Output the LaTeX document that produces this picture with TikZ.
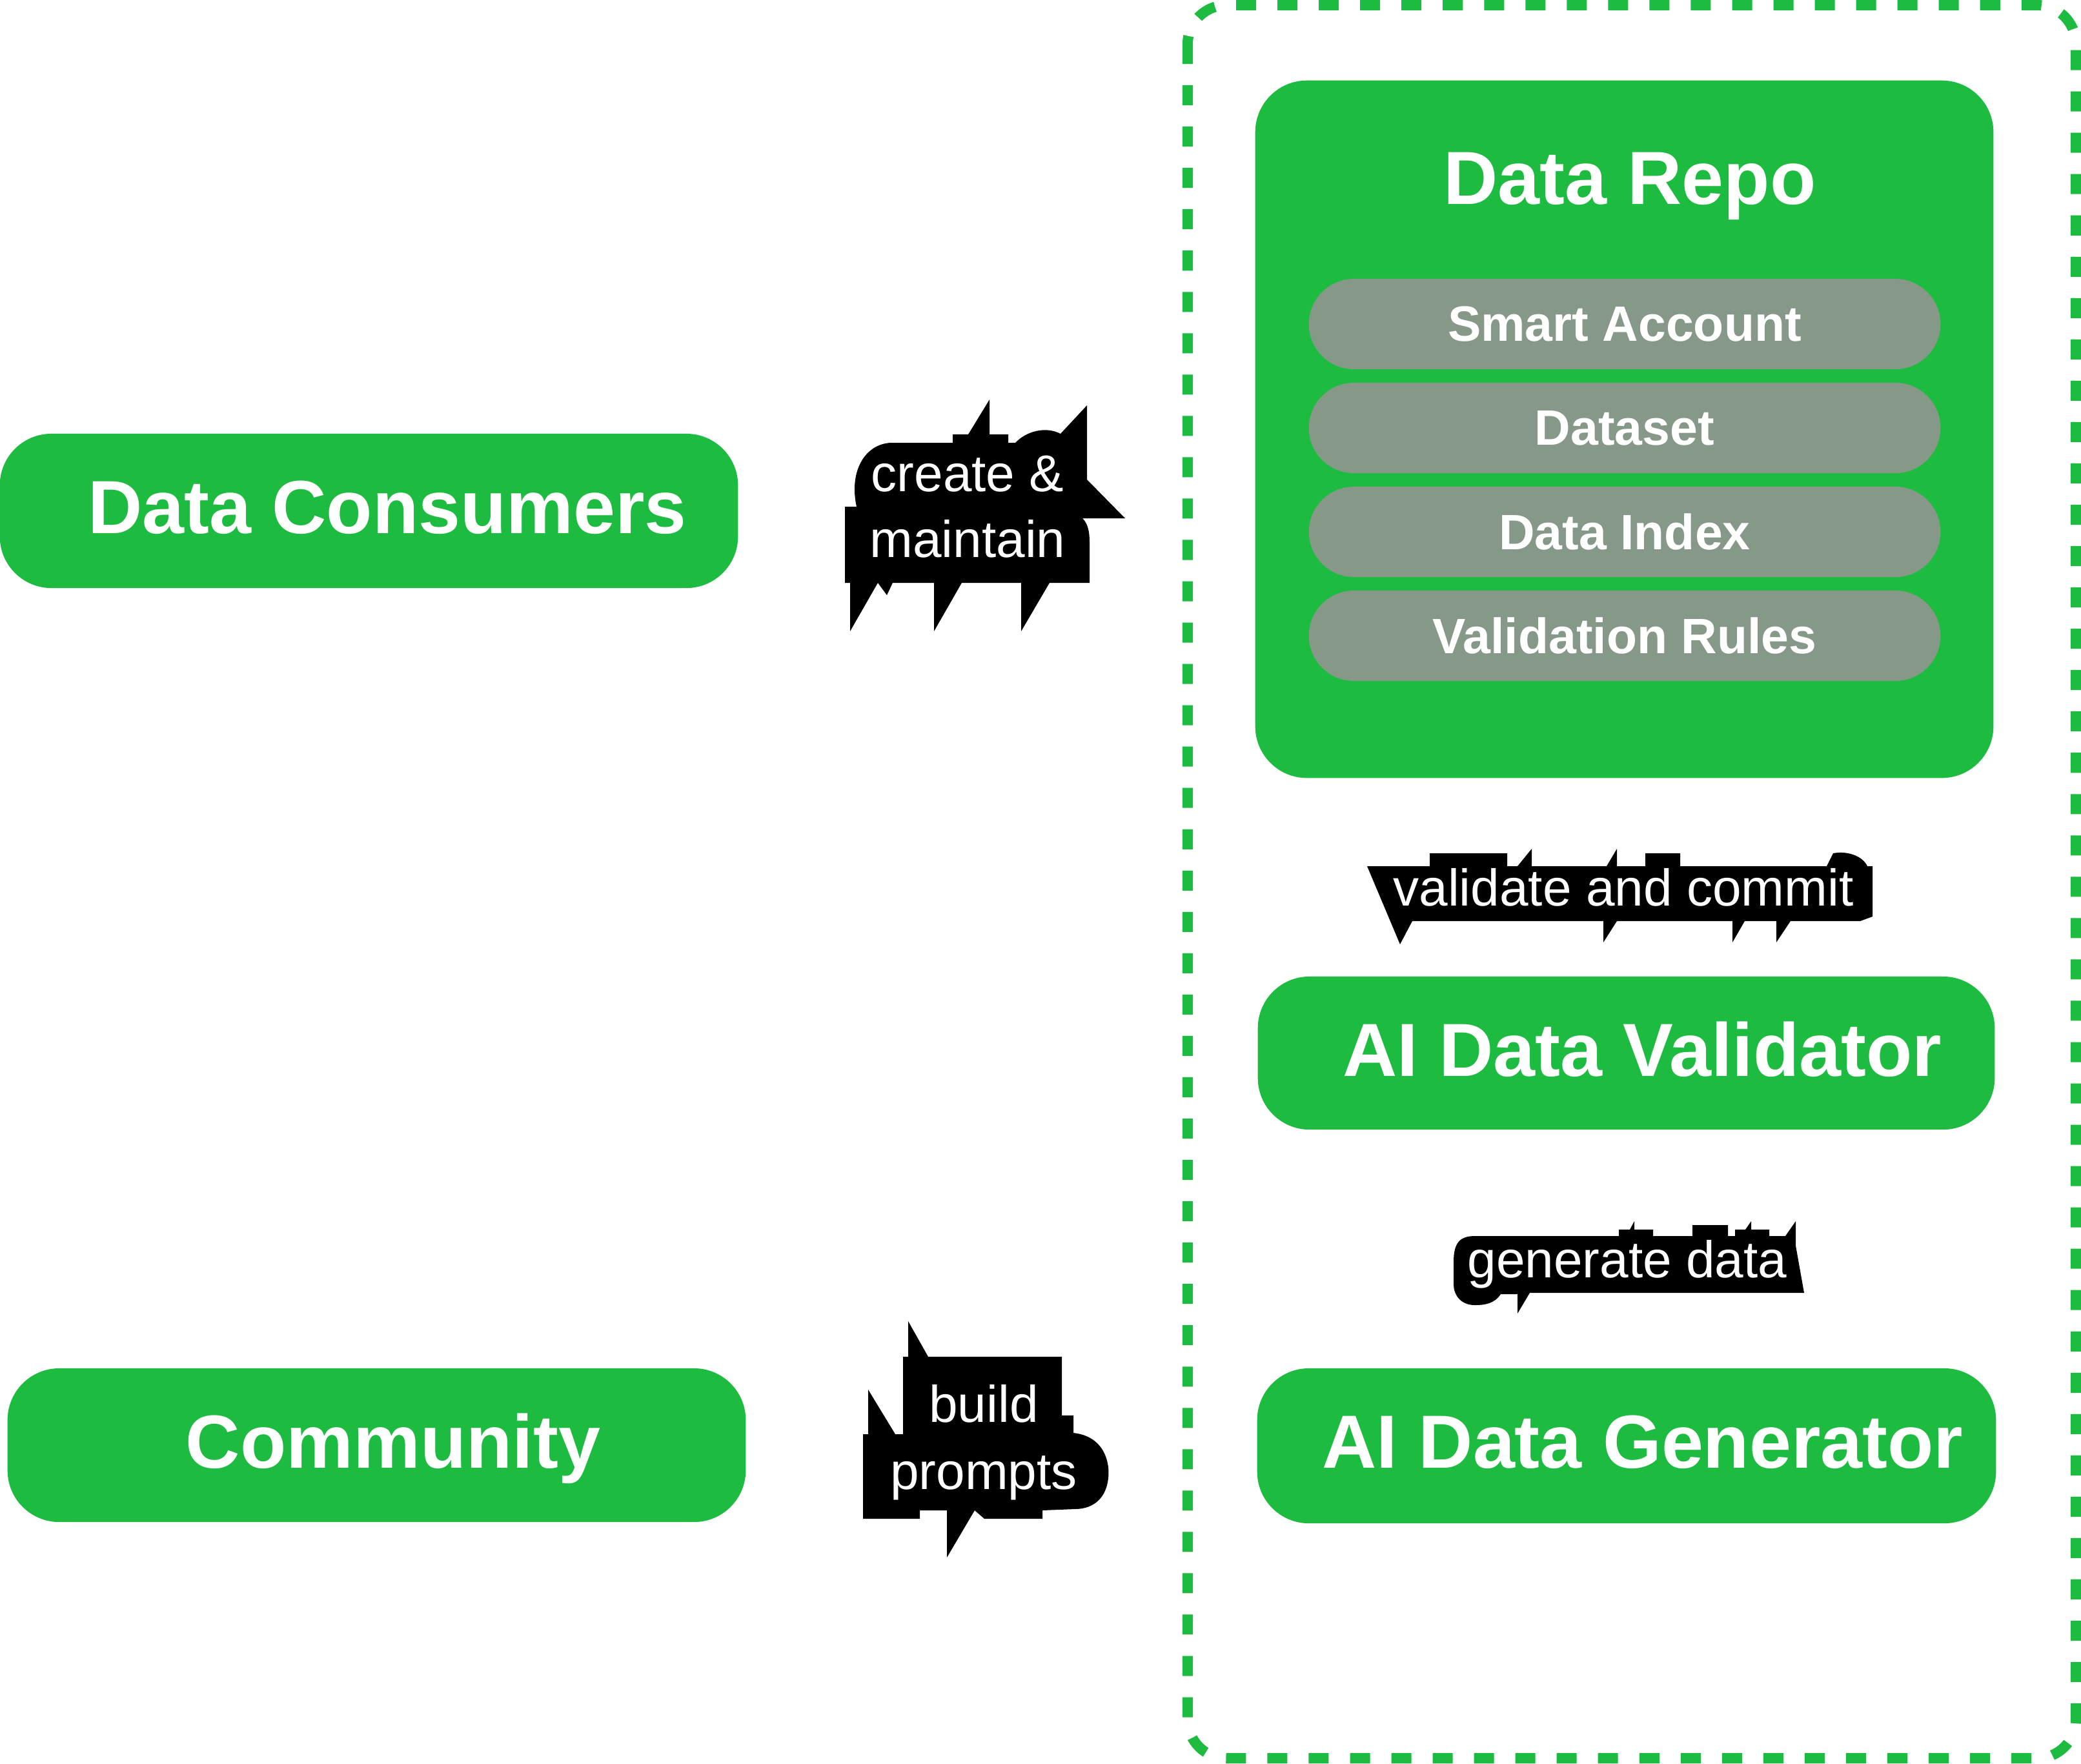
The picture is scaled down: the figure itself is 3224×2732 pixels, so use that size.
\documentclass[tikz,border=0pt]{standalone}
\usepackage{fontspec}
\setmainfont{Liberation Sans}
\definecolor{grn}{RGB}{29,187,63}
\definecolor{pillc}{RGB}{134,153,137}
\newcommand\ttlfont{\fontsize{33.2}{39}\selectfont\bfseries}
\newcommand\pilfont{\fontsize{21.9}{26}\selectfont\bfseries}
\newcommand\lblfont{\fontsize{22.8}{29}\selectfont}
\begin{document}
\begin{tikzpicture}[x=0.01cm,y=-0.01cm,
  greenbox/.style={fill=grn, rounded corners=0.8cm, inner sep=0pt},
  pillbox/.style={fill=pillc, rounded corners=0.7cm, minimum width=9.78cm, minimum height=1.40cm, inner sep=0pt, text=white, font=\pilfont},
  ttl/.style={text=white, font=\ttlfont, inner sep=0pt, anchor=base},
  lbl/.style={text=white, font=\lblfont, align=center, inner sep=0pt},
  blob/.style={fill=black},
  container/.style={draw=grn, line width=0.16cm, dash pattern=on 0.31cm off 0.33cm, rounded corners=0.6cm}]
\useasboundingbox (0,0) rectangle (3224,2732);
% dashed container
\draw[container] (1840,8) rectangle (3216,2724);

% left boxes
\node[greenbox, minimum width=11.43cm, minimum height=2.39cm] (consumers) at (571.5,791.5) {};
\node[ttl] (consumerstxt) at (600,826) {Data Consumers};
\node[greenbox, minimum width=11.43cm, minimum height=2.38cm] (community) at (583.5,2239) {};
\node[ttl] (communitytxt) at (609,2274) {Community};

% data repo
\node[greenbox, minimum width=11.43cm, minimum height=10.80cm] (repo) at (2516.5,665) {};
\node[ttl] (repotitle) at (2525,316) {Data Repo};
\node[pillbox] (smart) at (2517,502) {Smart Account};
\node[pillbox] (dataset) at (2517,663) {Dataset};
\node[pillbox] (index) at (2517,824) {Data Index};
\node[pillbox] (rules) at (2517,985) {Validation Rules};

% AI boxes
\node[greenbox, minimum width=11.41cm, minimum height=2.37cm] (validator) at (2519.5,1631.5) {};
\node[ttl] (validatortxt) at (2544,1667) {AI Data Validator};
\node[greenbox, minimum width=11.44cm, minimum height=2.40cm] (generator) at (2520,2240) {};
\node[ttl] (generatortxt) at (2545,2274) {AI Data Generator};

% label blobs
\fill[blob] (1309,903) -- (1309,785) -- (1327,785)
  .. controls (1315,730) and (1340,688) .. (1380,686) -- (1476,686) -- (1476,673) -- (1500,673)
  -- (1533,619) -- (1533,673) -- (1562,673) -- (1562,686) -- (1573,686)
  .. controls (1590,668) and (1620,660) .. (1643,672) -- (1684,628) -- (1684,743) -- (1743,803) -- (1677,803)
  .. controls (1686,812) and (1688,825) .. (1688,840) -- (1688,903) -- (1626,903) -- (1582,978) -- (1582,903)
  -- (1490,903) -- (1447,978) -- (1447,903) -- (1383,903) -- (1374,922) -- (1360,903) -- (1317,978) -- (1317,903) -- cycle;

\fill[blob] (2118,1342) -- (2169,1463) -- (2188,1427) -- (2484,1427) -- (2484,1460) -- (2505,1427)
  -- (2684,1427) -- (2684,1460) -- (2703,1427) -- (2752,1427) -- (2752,1460) -- (2774,1427)
  -- (2882,1427) -- (2901,1420) -- (2901,1342) -- (2893,1342)
  .. controls (2885,1325) and (2860,1318) .. (2840,1322) -- (2830,1342)
  -- (2603,1342) -- (2603,1322) -- (2549,1322) -- (2549,1342) -- (2505,1342) -- (2505,1315) -- (2489,1342)
  -- (2373,1342) -- (2373,1315) -- (2351,1342) -- (2335,1342) -- (2335,1322) -- (2215,1322) -- (2215,1342) -- cycle;

\fill[blob] (2252,1990) -- (2252,1955) .. controls (2252,1925) and (2262,1915) .. (2285,1915)
  -- (2508,1915) -- (2508,1905) -- (2525,1905) -- (2532,1892) -- (2532,1905) -- (2561,1905) -- (2561,1915)
  -- (2622,1915) -- (2622,1898) -- (2677,1898) -- (2677,1915) -- (2688,1915) -- (2688,1905) -- (2704,1905)
  -- (2713,1892) -- (2713,1905) -- (2741,1905) -- (2741,1915) -- (2766,1915) -- (2782,1892) -- (2782,1930)
  -- (2795,2003) -- (2370,2003) -- (2351,2035) -- (2351,2005) -- (2325,2005)
  .. controls (2315,2020) and (2300,2022) .. (2285,2022) .. controls (2262,2022) and (2252,2005) .. (2252,1990) -- cycle;

\fill[blob] (1337,2353) -- (1337,2222) -- (1345,2222) -- (1345,2153) -- (1387,2222) -- (1399,2222)
  -- (1399,2102) -- (1407,2102) -- (1407,2047) -- (1438,2102) -- (1645,2102) -- (1645,2193) -- (1663,2193)
  -- (1663,2220) .. controls (1710,2225) and (1720,2265) .. (1717,2290)
  .. controls (1714,2320) and (1695,2338) .. (1665,2338) -- (1615,2340) -- (1615,2353) -- (1525,2353)
  -- (1510,2340) -- (1467,2413) -- (1467,2340) -- (1425,2340) -- (1425,2353) -- cycle;

% labels
\node[lbl] (lblcreate) at (1499,785) {create \&\\maintain};
\node[lbl] (lblbuild) at (1524,2235) {build\\[0.02cm]prompts};
\node[lbl, anchor=base] (lblvalidate) at (2515,1403) {validate and commit};
\node[lbl, anchor=base] (lblgenerate) at (2521,1979) {generate data};
\end{tikzpicture}
\end{document}
